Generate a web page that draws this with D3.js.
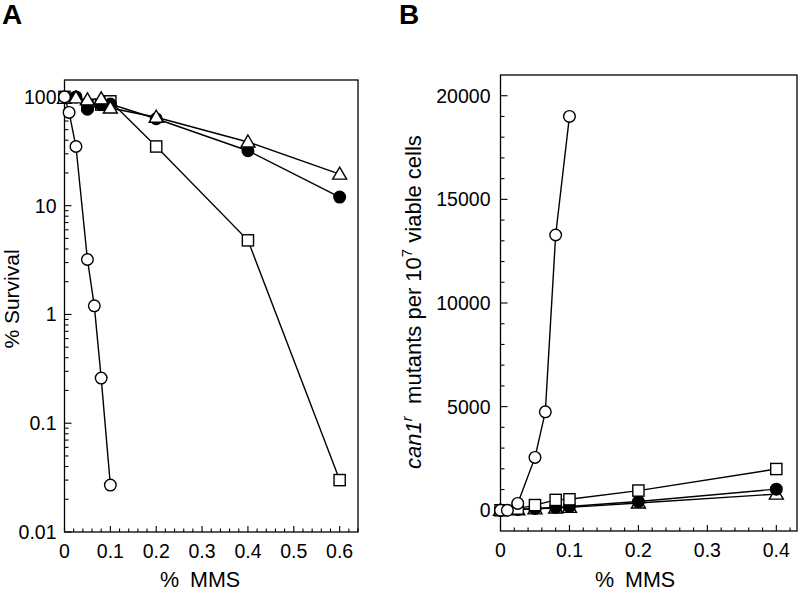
<!DOCTYPE html>
<html><head><meta charset="utf-8">
<script src="https://cdn.jsdelivr.net/npm/d3@7"></script>
<style>
html,body{margin:0;padding:0;background:#fff;}
svg{display:block;font-family:"Liberation Sans",Arial,Helvetica,sans-serif;}
</style></head>
<body>
<svg id="chart" width="800" height="591"></svg>
<script>
// ---------- Panel A : % survival ----------
const aOpenCircleX = [0, 0.01, 0.025, 0.05, 0.065, 0.08, 0.1];
const aOpenCircleY = [100, 72, 35, 3.2, 1.2, 0.26, 0.027];
const aFilledCircleX = [0, 0.025, 0.05, 0.08, 0.1, 0.2, 0.4, 0.6];
const aFilledCircleY = [100, 100, 77, 85, 86, 63, 32, 12];
const aTriangleX = [0, 0.025, 0.05, 0.08, 0.1, 0.2, 0.4, 0.6];
const aTriangleY = [97, 98, 94, 96, 79, 65, 38.5, 19.5];
const aSquareX = [0, 0.05, 0.08, 0.1, 0.2, 0.4, 0.6];
const aSquareY = [100, 84, 85, 91, 35, 4.8, 0.03];
const aXTicks = [0, 0.1, 0.2, 0.3, 0.4, 0.5, 0.6];
const aYTicks = [0.01, 0.1, 1, 10, 100];

// ---------- Panel B : can1r mutants ----------
const bOpenCircleX = [0, 0.01, 0.025, 0.05, 0.065, 0.08, 0.1];
const bOpenCircleY = [0, 0, 330, 2550, 4750, 13280, 19000];
const bSquareX = [0, 0.025, 0.05, 0.08, 0.1, 0.2, 0.4];
const bSquareY = [0, 80, 250, 500, 530, 950, 1990];
const bFilledCircleX = [0, 0.025, 0.05, 0.08, 0.1, 0.2, 0.4];
const bFilledCircleY = [0, 40, 90, 140, 180, 420, 1020];
const bTriangleX = [0, 0.025, 0.05, 0.08, 0.1, 0.2, 0.4];
const bTriangleY = [0, 30, 70, 110, 140, 350, 780];
const bXTicks = [0, 0.1, 0.2, 0.3, 0.4];
const bYTicks = [0, 5000, 10000, 15000, 20000];

const svg = d3.select("#chart");
const SW = 1.4;

function zip(xs, ys){ return xs.map((x,i)=>({x, y: ys[i]})); }

function drawSeries(g, x, y, data, shape){
  const line = d3.line().x(d=>x(d.x)).y(d=>y(d.y));
  g.append("path").attr("d", line(data)).attr("fill","none")
    .attr("stroke","#000").attr("stroke-width",SW);
  const m = g.append("g");
  data.forEach(d=>{
    const cx = x(d.x), cy = y(d.y);
    if(shape==="circle" || shape==="filled"){
      m.append("circle").attr("cx",cx).attr("cy",cy).attr("r",5.8)
        .attr("fill", shape==="filled" ? "#000" : "#fff")
        .attr("stroke","#000").attr("stroke-width",SW);
    } else if(shape==="square"){
      m.append("rect").attr("x",cx-5.6).attr("y",cy-5.6).attr("width",11.2).attr("height",11.2)
        .attr("fill","#fff").attr("stroke","#000").attr("stroke-width",SW);
    } else if(shape==="triangle"){
      const s = 7;
      m.append("path").attr("d",`M${cx},${cy-s} L${cx+s},${cy+s*0.72} L${cx-s},${cy+s*0.72} Z`)
        .attr("fill","#fff").attr("stroke","#000").attr("stroke-width",SW);
    }
  });
}

function frame(g, x0, x1, y0, y1){
  g.append("rect").attr("x",x0).attr("y",y0).attr("width",x1-x0).attr("height",y1-y0)
    .attr("fill","none").attr("stroke","#000").attr("stroke-width",1.3);
}

// ===== Panel A =====
{
  const L=64.5, R=358, T=80, B=532;
  const x = d3.scaleLinear().domain([0,0.64]).range([L,R]);
  const y = d3.scaleLog().domain([0.01,143]).range([B,T]);
  const g = svg.append("g");
  frame(g,L,R,T,B);
  const xMinor = d3.range(0,0.641,0.02);
  g.append("g").selectAll("line").data(xMinor).join("line")
    .attr("x1",d=>x(d)).attr("x2",d=>x(d)).attr("y1",B)
    .attr("y2",d=> (Math.abs(d*10-Math.round(d*10))<1e-6) ? B-6 : B-3.5)
    .attr("stroke","#000").attr("stroke-width",1.1);
  g.append("g").selectAll("text").data(aXTicks).join("text")
    .attr("x",d=>x(d)).attr("y",B+26).attr("text-anchor","middle")
    .attr("font-size",19.5).text(d=>d3.format("")(d));
  const yMinor = [];
  for(let e=-2;e<=2;e++){ for(let k=1;k<=9;k++){ const v=k*Math.pow(10,e); if(v<=143) yMinor.push({v, major:k===1}); } }
  g.append("g").selectAll("line").data(yMinor).join("line")
    .attr("x1",L).attr("x2",d=>d.major? L+7 : L+4)
    .attr("y1",d=>y(d.v)).attr("y2",d=>y(d.v))
    .attr("stroke","#000").attr("stroke-width",1.1);
  g.append("g").selectAll("text").data(aYTicks).join("text")
    .attr("x",L-8).attr("y",d=>y(d)).attr("dy","0.36em").attr("text-anchor","end")
    .attr("font-size",19.5).text(d=>String(d));

  drawSeries(g,x,y,zip(aSquareX,aSquareY),"square");
  drawSeries(g,x,y,zip(aFilledCircleX,aFilledCircleY),"filled");
  drawSeries(g,x,y,zip(aTriangleX,aTriangleY),"triangle");
  drawSeries(g,x,y,zip(aOpenCircleX,aOpenCircleY),"circle");

  g.append("text").attr("x",200).attr("y",587).attr("text-anchor","middle")
    .attr("font-size",21.5).attr("word-spacing",5).text("% MMS");
  g.append("text").attr("transform","translate(19,299) rotate(-90)")
    .attr("text-anchor","middle").attr("font-size",21).text("% Survival");
  g.append("text").attr("x",2).attr("y",24).attr("font-size",28).attr("font-weight","bold").text("A");
}

// ===== Panel B =====
{
  const L=500.5, R=797, T=75, B=531;
  const x = d3.scaleLinear().domain([0,0.43]).range([L,R]);
  const y = d3.scaleLinear().domain([-1000,21000]).range([B,T]);
  const g = svg.append("g");
  frame(g,L,R,T,B);
  const xMinor = d3.range(0,0.431,0.02);
  g.append("g").selectAll("line").data(xMinor).join("line")
    .attr("x1",d=>x(d)).attr("x2",d=>x(d)).attr("y1",B)
    .attr("y2",d=> (Math.abs(d*10-Math.round(d*10))<1e-6) ? B-6 : B-3.5)
    .attr("stroke","#000").attr("stroke-width",1.1);
  g.append("g").selectAll("text").data(bXTicks).join("text")
    .attr("x",d=>x(d)).attr("y",B+26).attr("text-anchor","middle")
    .attr("font-size",19.5).text(d=>d3.format("")(d));
  const yMinor = d3.range(0,21000,1000);
  g.append("g").selectAll("line").data(yMinor).join("line")
    .attr("x1",L).attr("x2",d=> d%5000===0 ? L+7 : L+4)
    .attr("y1",d=>y(d)).attr("y2",d=>y(d))
    .attr("stroke","#000").attr("stroke-width",1.1);
  g.append("g").selectAll("text").data(bYTicks).join("text")
    .attr("x",L-10).attr("y",d=>y(d)).attr("dy","0.36em").attr("text-anchor","end")
    .attr("font-size",19.5).text(d=>String(d));

  drawSeries(g,x,y,zip(bTriangleX,bTriangleY),"triangle");
  drawSeries(g,x,y,zip(bFilledCircleX,bFilledCircleY),"filled");
  drawSeries(g,x,y,zip(bSquareX,bSquareY),"square");
  drawSeries(g,x,y,zip(bOpenCircleX,bOpenCircleY),"circle");

  g.append("text").attr("x",635).attr("y",587).attr("text-anchor","middle")
    .attr("font-size",21.5).attr("word-spacing",5).text("% MMS");
  const t = g.append("text").attr("transform","translate(421,302) rotate(-90)")
    .attr("text-anchor","middle").attr("font-size",22);
  t.append("tspan").attr("font-style","italic").text("can1");
  t.append("tspan").attr("font-style","italic").attr("font-size",15).attr("dy",-9).text("r");
  t.append("tspan").attr("dy",9).text("\u00A0 mutants per 10");
  t.append("tspan").attr("font-size",15).attr("dy",-9).text("7");
  t.append("tspan").attr("dy",9).text(" viable cells");
  g.append("text").attr("x",399).attr("y",24).attr("font-size",28).attr("font-weight","bold").text("B");
}
</script>
</body></html>
